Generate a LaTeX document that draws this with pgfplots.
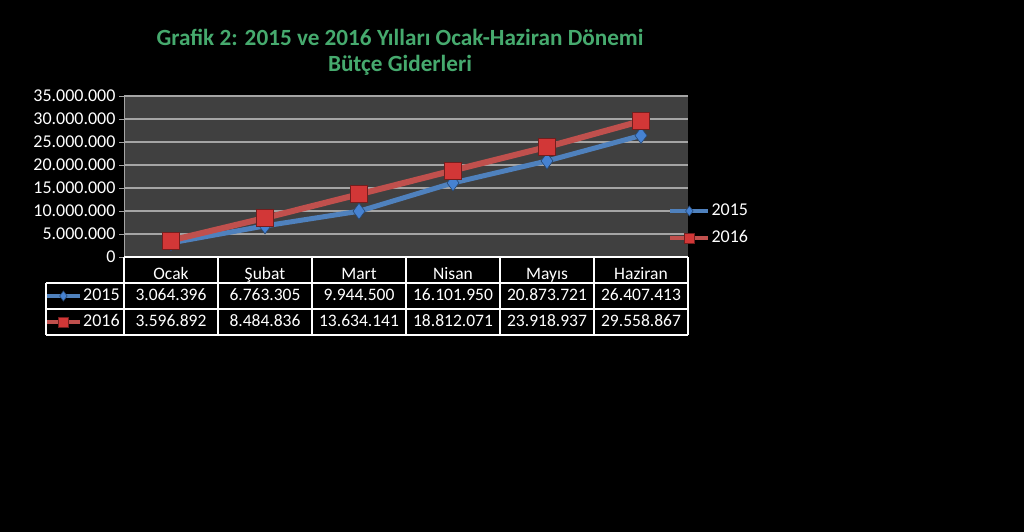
\documentclass[border=0pt]{standalone}
\usepackage{pgfplots}
\pgfplotsset{compat=1.18}
\usepackage{fontspec}
\setmainfont{Carlito}
\definecolor{bgplot}{RGB}{64,64,64}
\definecolor{gridc}{RGB}{165,165,165}
\definecolor{blueL}{RGB}{79,129,189}
\definecolor{redL}{RGB}{192,80,77}
\definecolor{blueM}{RGB}{70,130,210}
\definecolor{redM}{RGB}{210,55,55}
\definecolor{titleg}{RGB}{70,170,110}
\pgfplotsset{
 s2015/.style={color=blueL, line width=5pt, mark=diamond*, mark size=8pt, mark options={fill=blueM, draw=blueM!55!black, line width=0.6pt}},
 s2016/.style={color=redL, line width=6pt, mark=square*, mark size=8.5pt, mark options={fill=redM, draw=redM!55!black, line width=0.6pt}},
}
\pgfplotstableread{
x y
0 3064396
1 6763305
2 9944500
3 16101950
4 20873721
5 26407413
}\dataA
\pgfplotstableread{
x y
0 3596892
1 8484836
2 13634141
3 18812071
4 23918937
5 29558867
}\dataB
\newcommand{\fs}{\fontsize{18}{21}\selectfont}
\newcommand{\ft}{\fontsize{17.5}{21}\selectfont}
\begin{document}
\begin{tikzpicture}[x=1pt,y=1pt]
\fill[black] (0,0) rectangle (1024,532);
\node[text=titleg, font=\bfseries\fontsize{23.2}{26}\selectfont, align=center] at (400,480) {Grafik 2: 2015 ve 2016 Yılları Ocak-Haziran Dönemi\\Bütçe Giderleri};
\begin{axis}[at={(124pt,275pt)}, anchor=south west, scale only axis, width=564pt, height=161pt,
 xmin=-0.5, xmax=5.5, ymin=0, ymax=35000000,
 ytick={0,5000000,10000000,15000000,20000000,25000000,30000000,35000000},
 scaled y ticks=false,
 yticklabel style={/pgf/number format/.cd, fixed, 1000 sep={.}, assume math mode=true},
 xtick=data, xticklabels={Ocak,Şubat,Mart,Nisan,Mayıs,Haziran},
 xticklabel style={anchor=base, yshift=-18pt, font=\ft},
 ticklabel style={font=\fs, text=white},
 axis background/.style={fill=bgplot},
 axis x line*=bottom, axis y line*=left,
 x axis line style={draw=none}, y axis line style={draw=gridc, line width=1pt},
 xtick style={draw=none},
 ytick style={draw=gridc, line width=0.8pt},
 tick align=outside, major tick length=5pt,
 ymajorgrids, major grid style={gridc, line width=1.2pt},
 clip=false,
 legend style={at={(0.959,0.2019)}, anchor=west, draw=none, fill=none, text=white, font=\fs, row sep=10pt, nodes={inner sep=1pt, text height=12pt, text depth=3pt}},
 legend cell align=left,
 legend image code/.code={\draw[mark repeat=2,mark phase=2,#1] plot coordinates {(0pt,0pt)(19pt,0pt)(38pt,0pt)};},
 legend image post style={mark size=5pt, line width=4.5pt},
]
\addplot[s2015] table[x=x,y=y] {\dataA};
\addlegendentry{2015}
\addplot[s2016] table[x=x,y=y] {\dataB};
\addlegendentry{2016}
\end{axis}
\begin{axis}[at={(124pt,275pt)}, anchor=south west, scale only axis, width=564pt, height=161pt,
 hide axis, xmin=0, xmax=1, ymin=0, ymax=1,
 legend style={at={(-0.1472,-0.323)}, anchor=west, draw=none, fill=none, text=white, font=\fs, row sep=10pt, nodes={inner sep=0.5pt, text height=12pt, text depth=3pt}},
 legend cell align=left,
 legend image code/.code={\draw[mark repeat=2,mark phase=2,#1] plot coordinates {(0pt,0pt)(17pt,0pt)(34pt,0pt)};},
 legend image post style={mark size=5pt, line width=4.5pt},
]
\addlegendimage{s2015}
\addlegendentry{2015}
\addlegendimage{s2016}
\addlegendentry{2016}
\end{axis}
% table grid
\begin{scope}[white, line width=1.5pt]
\draw (124,275) -- (688,275);
\draw (46,249) -- (688,249);
\draw (46,223) -- (688,223);
\draw (46,197) -- (688,197);
\draw (46,197) -- (46,249);
\foreach \xx in {124,218,312,406,500,594,688} {\draw (\xx,197) -- (\xx,275);}
\end{scope}
\begin{scope}[every node/.style={text=white, font=\ft, anchor=base}]
\node at (171,231) {3.064.396};
\node at (265,231) {6.763.305};
\node at (359,231) {9.944.500};
\node at (453,231) {16.101.950};
\node at (547,231) {20.873.721};
\node at (641,231) {26.407.413};
\node at (171,205) {3.596.892};
\node at (265,205) {8.484.836};
\node at (359,205) {13.634.141};
\node at (453,205) {18.812.071};
\node at (547,205) {23.918.937};
\node at (641,205) {29.558.867};
\end{scope}
\pgfresetboundingbox
\path (0,0) rectangle (1024,532);
\end{tikzpicture}
\end{document}
